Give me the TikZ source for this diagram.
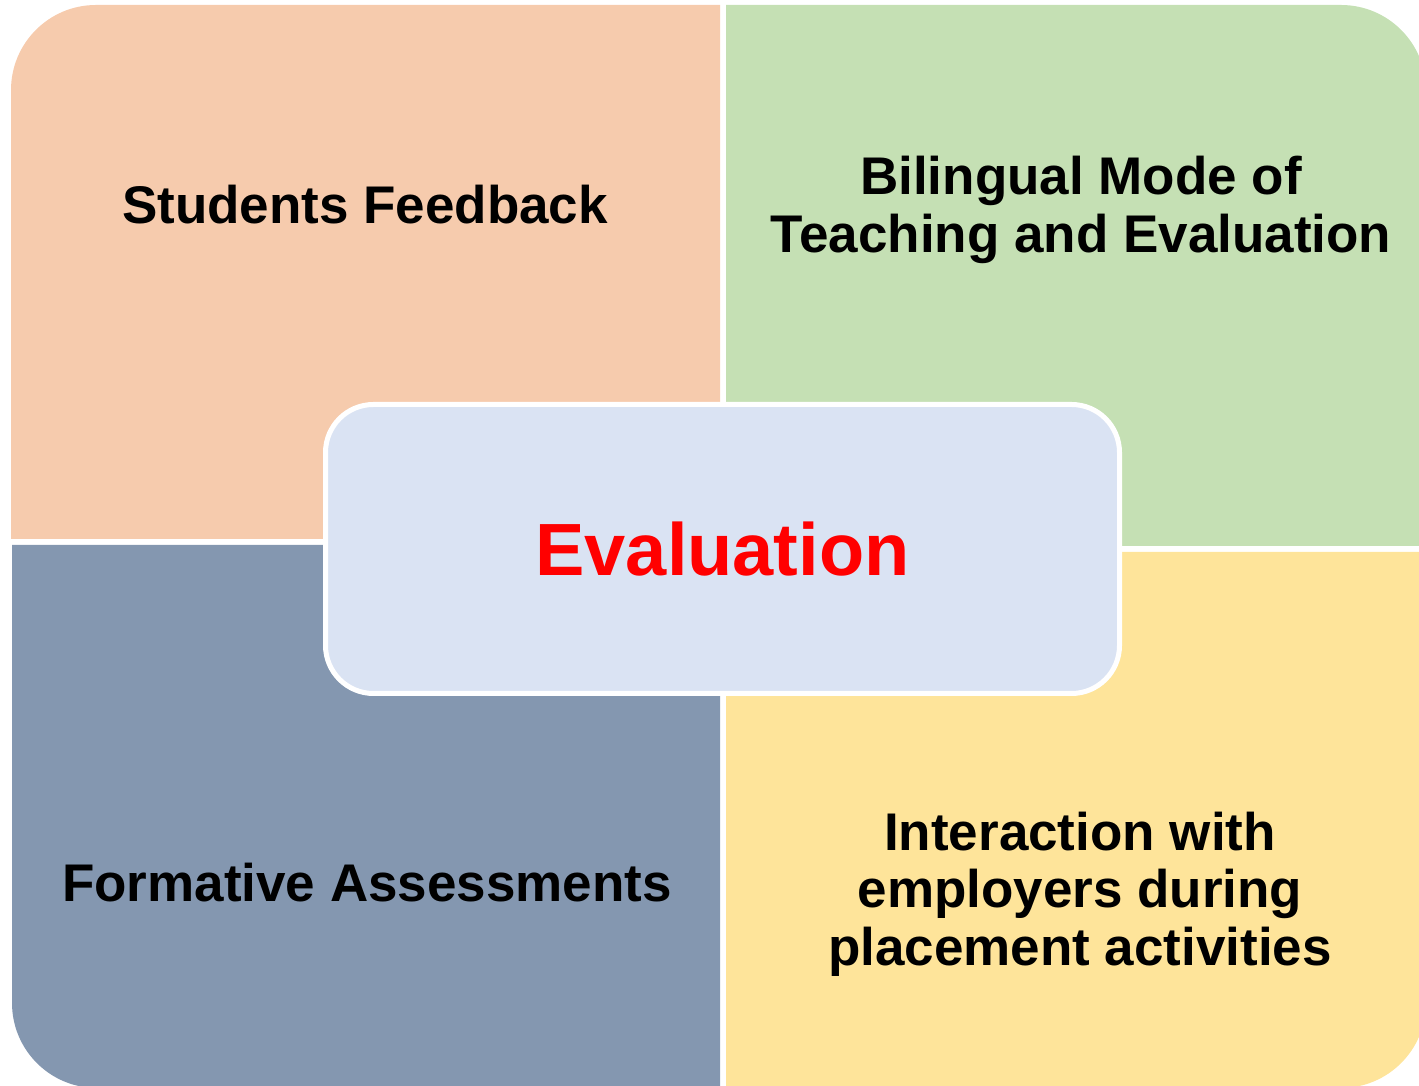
\documentclass[tikz,border=0pt]{standalone}
\usepackage{fontspec}
\setmainfont{Liberation Sans}
\usetikzlibrary{positioning}
\definecolor{peach}{RGB}{246,203,173}
\definecolor{leafgreen}{RGB}{197,224,180}
\definecolor{slateblue}{RGB}{132,151,176}
\definecolor{butter}{RGB}{254,228,154}
\definecolor{paleblue}{RGB}{218,227,243}

\begin{document}
\begin{tikzpicture}[x=1pt,y=1pt,
    quadtext/.style={font=\bfseries\fontsize{53}{57.5}\selectfont,align=center,text=black},
    centerbox/.style={draw=white,line width=5pt,fill=paleblue,rounded corners=48pt,
      minimum width=794pt,minimum height=289pt,text=red,
      font=\bfseries\fontsize{74}{80}\selectfont}]
  % canvas 1419 x 1086, one unit per pixel, y upwards
  \useasboundingbox (0,0) rectangle (1419,1086);

  % --- four quadrants, only the outer corner rounded
  \fill[peach] (720,547) -- (11,547) -- (11,996)
    arc[start angle=180,end angle=90,radius=85pt] -- (720,1081) -- cycle;
  \fill[leafgreen] (726,540) -- (726,1081) -- (1341,1081)
    arc[start angle=90,end angle=0,radius=85pt] -- (1426,540) -- cycle;
  \fill[slateblue] (720,541) -- (12,541) -- (12,83)
    arc[start angle=180,end angle=270,radius=85pt] -- (720,-2) -- cycle;
  \fill[butter] (726,534) -- (1426,534) -- (1426,83)
    arc[start angle=0,end angle=-90,radius=85pt] -- (726,-2) -- cycle;

  % --- quadrant labels
  \node[quadtext] (feedback) at (365,881) {Students Feedback};
  \node[quadtext] (bilingual) at (1081,876) {Bilingual Mode of\\Teaching and Evaluation};
  \node[quadtext] (formative) at (367,203) {Formative Assessments};
  \node[quadtext] (employers) at (1080,192) {Interaction with\\employers during\\placement activities};

  % --- central box
  \node[centerbox] (eval) at (722.5,537) {Evaluation};
\end{tikzpicture}
\end{document}
